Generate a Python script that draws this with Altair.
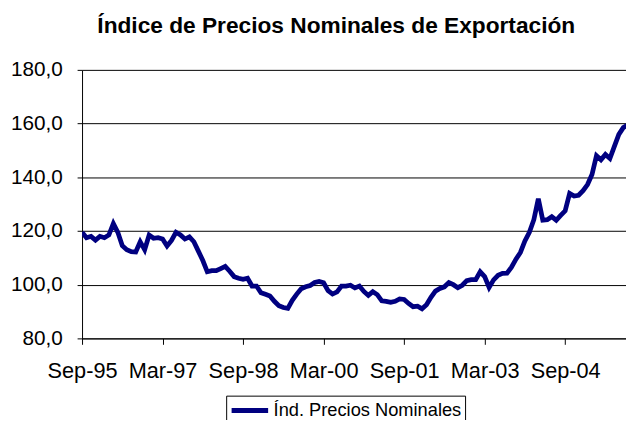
import altair as alt
import pandas as pd

# Monthly index, Sep-95 onward
values = [
    119.5, 117.5, 118.0, 116.6, 118.0, 117.5, 118.5, 122.8, 119.5, 114.5,
    113.0, 112.3, 112.2, 116.0, 113.0, 118.5, 117.3, 117.5, 117.0, 114.4,
    116.5, 119.5, 118.5, 117.0, 117.8, 116.0, 112.5, 109.0, 104.8, 105.2,
    105.2, 106.0, 106.8, 105.0, 103.0, 102.4, 102.0, 102.4, 99.5, 99.5,
    97.0, 96.4, 95.8, 93.8, 92.2, 91.5, 91.2, 94.2, 96.5, 98.5,
    99.2, 99.7, 100.8, 101.2, 100.7, 97.8, 96.5, 97.3, 99.5, 99.5,
    99.8, 98.8, 99.5, 97.5, 96.0, 97.4, 96.3, 94.0, 93.8, 93.4,
    93.8, 94.7, 94.5, 93.0, 91.8, 92.0, 91.0, 92.5, 95.3, 97.6,
    98.6, 99.2, 100.8, 100.0, 98.9, 99.8, 101.5, 101.9, 101.9, 104.8,
    103.0, 99.0, 101.8, 103.5, 104.2, 104.3, 106.5, 109.5, 112.0, 116.3,
    119.5, 124.2, 132.0, 124.0, 124.2, 125.3, 124.0, 125.8, 127.5, 134.0,
    133.0, 133.3, 135.0, 137.3, 141.0, 148.0, 146.5, 148.5, 147.0, 151.5,
    156.0, 158.5, 159.5,
]
tick_positions = [0, 18, 36, 54, 72, 90, 108]
tick_labels = ["Sep-95", "Mar-97", "Sep-98", "Mar-00", "Sep-01", "Mar-03", "Sep-04"]
y_ticks = [80, 100, 120, 140, 160, 180]
series_name = "Índ. Precios Nominales"
title_text = "Índice de Precios Nominales de Exportación"

df = pd.DataFrame({
    "mes": list(range(len(values))),
    "valor": values,
    "serie": [series_name] * len(values),
})

FONT = "Liberation Sans, Arial, sans-serif"
label_js = "[" + ",".join(f"'{t}'" for t in tick_labels) + "]"

chart = alt.Chart(df).mark_line(color="#000080", strokeWidth=4.8, clip=True).encode(
    x=alt.X(
        "mes:Q",
        scale=alt.Scale(domain=[0, 121.6], nice=False, zero=False),
        axis=alt.Axis(
            values=tick_positions,
            labelExpr=f"{label_js}[round(datum.value/18)]",
            title=None, grid=False, domain=True, domainColor="black",
            tickColor="black", tickSize=6, labelPadding=17,
            labelFont=FONT, labelFontSize=22, labelColor="black",
            labelFlush=False, labelOverlap=False,
        ),
    ),
    y=alt.Y(
        "valor:Q",
        scale=alt.Scale(domain=[80, 180], nice=False, zero=False),
        axis=alt.Axis(
            values=y_ticks,
            labelExpr="replace(format(datum.value, '.1f'), '.', ',')",
            title=None, grid=True, gridColor="black", gridOpacity=1, gridWidth=1,
            domain=True, domainColor="black", tickColor="black", tickSize=5,
            labelPadding=15, labelFont=FONT, labelFontSize=21, labelColor="black",
            labelFlush=False, labelOverlap=False,
        ),
    ),
    color=alt.Color(
        "serie:N",
        scale=alt.Scale(range=["#000080"]),
        legend=alt.Legend(
            title=None, orient="none", legendX=146, legendY=330,
            strokeColor="black", padding=3, symbolType="stroke",
            symbolStrokeWidth=5, symbolSize=1369, labelFont=FONT,
            labelFontSize=18.5, labelColor="black", labelOffset=3,
            labelLimit=400, clipHeight=24,
        ),
    ),
).properties(
    width=551,
    height=272,
    title=alt.TitleParams(
        title_text, font=FONT, fontSize=23, fontWeight="bold", color="black",
        anchor="middle", dx=-18, offset=21,
    ),
    padding={"left": 75, "top": 60, "right": 0, "bottom": 80},
    autosize=alt.AutoSizeParams(type="none"),
).configure_view(stroke=None)

chart.save("out.html", embed_options={"renderer": "svg", "actions": False})
